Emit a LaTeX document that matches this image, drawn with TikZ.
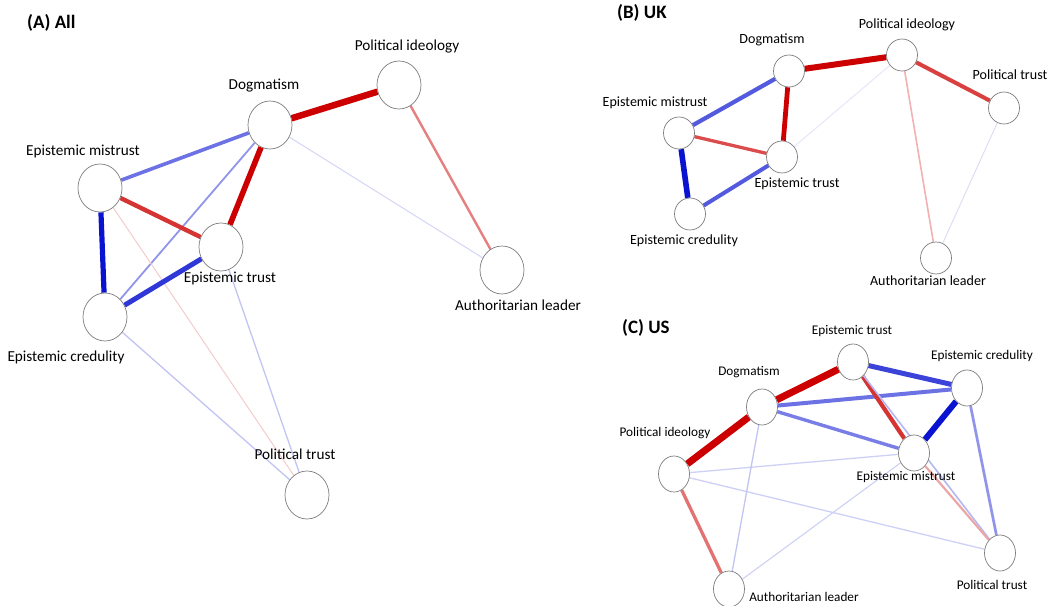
\documentclass[tikz,border=0pt]{standalone}
\usepackage{fontspec}
\setmainfont{Carlito}
\usepackage{xcolor}
\usetikzlibrary{shapes.geometric,backgrounds}
\definecolor{netred}{RGB}{204,0,0}
\definecolor{netblue}{RGB}{10,20,208}
\definecolor{nodegray}{RGB}{125,125,125}

\tikzset{
  vtx/.style={ellipse,draw=nodegray,fill=white,line width=0.7bp,inner sep=0pt},
  vtxA/.style={vtx,minimum width=44bp,minimum height=48bp},
  vtxB/.style={vtx,minimum width=31bp,minimum height=32bp},
  vtxC/.style={vtx,minimum width=31bp,minimum height=36bp},
  lblA/.style={inner sep=0pt,anchor=mid,font=\fontsize{15.3}{17}\selectfont},
  lblB/.style={lblA,font=\fontsize{14.1}{16}\selectfont},
  lblC/.style={lblA,font=\fontsize{13.3}{15}\selectfont},
  panel/.style={inner sep=0pt,anchor=mid west,font=\bfseries\fontsize{19}{22}\selectfont},
  posedge/.style 2 args={draw=netred!#1,line width=#2bp},
  negedge/.style 2 args={draw=netblue!#1,line width=#2bp},
}

\begin{document}
\begin{tikzpicture}[x=1bp,y=-1bp]
    \useasboundingbox (0,0) rectangle (1054,606);

    % (A) All
    \node[panel] (titleA) at (27,26) {(A) All};
    \node[vtxA] (aPolI) at (399,85) {};
    \node[vtxA] (aDog) at (270,125) {};
    \node[vtxA] (aMis) at (100,188) {};
    \node[vtxA] (aTru) at (221,247) {};
    \node[vtxA] (aAuth) at (502,270) {};
    \node[vtxA] (aCred) at (105,317) {};
    \node[vtxA] (aPolT) at (307,495) {};
    \node[lblA] (aPolIL) at (407,48) {Political ideology};
    \node[lblA] (aDogL) at (264,87) {Dogmatism};
    \node[lblA] (aMisL) at (83,153) {Epistemic mistrust};
    \node[lblA] (aTruL) at (230,280) {Epistemic trust};
    \node[lblA] (aAuthL) at (518,308) {Authoritarian leader};
    \node[lblA] (aCredL) at (66,359) {Epistemic credulity};
    \node[lblA] (aPolTL) at (295,457) {Political trust};

    % (B) UK
    \node[panel] (titleB) at (617,16) {(B) UK};
    \node[vtxB] (bPolI) at (902,55) {};
    \node[vtxB] (bDog) at (789,71) {};
    \node[vtxB] (bPolT) at (1004,108) {};
    \node[vtxB] (bMis) at (679,133) {};
    \node[vtxB] (bTru) at (782,157) {};
    \node[vtxB] (bCred) at (690,214) {};
    \node[vtxB] (bAuth) at (936,258) {};
    \node[lblB] (bPolIL) at (907,26) {Political ideology};
    \node[lblB] (bDogL) at (772,41) {Dogmatism};
    \node[lblB] (bPolTL) at (1010,77) {Political trust};
    \node[lblB] (bMisL) at (655,104) {Epistemic mistrust};
    \node[lblB] (bTruL) at (797,185) {Epistemic trust};
    \node[lblB] (bCredL) at (684,242) {Epistemic credulity};
    \node[lblB] (bAuthL) at (928,283) {Authoritarian leader};

    % (C) US
    \node[panel] (titleC) at (622,331) {(C) US};
    \node[vtxC] (cTru) at (853,362) {};
    \node[vtxC] (cCred) at (967,388) {};
    \node[vtxC] (cDog) at (762,407) {};
    \node[vtxC] (cPolI) at (674,474) {};
    \node[vtxC] (cMis) at (914,453) {};
    \node[vtxC] (cPolT) at (1000,553) {};
    \node[vtxC] (cAuth) at (729,589) {};
    \node[lblC] (cTruL) at (852,332) {Epistemic trust};
    \node[lblC] (cCredL) at (982,357) {Epistemic credulity};
    \node[lblC] (cDogL) at (749,373) {Dogmatism};
    \node[lblC] (cPolIL) at (665,434) {Political ideology};
    \node[lblC] (cMisL) at (906,478) {Epistemic mistrust};
    \node[lblC] (cPolTL) at (992,587) {Political trust};
    \node[lblC] (cAuthL) at (804,599) {Authoritarian leader};

    \begin{scope}[on background layer]
        \fill[white] (0,0) rectangle (1054,606);

        % Edges (A)
        \draw[posedge={100}{6.5}] (aDog) -- (aPolI);
        \draw[posedge={50}{2.4}] (aPolI) -- (aAuth);
        \draw[negedge={18}{1}] (aDog) -- (aAuth);
        \draw[negedge={60}{3.6}] (aDog) -- (aMis);
        \draw[negedge={45}{1.8}] (aDog) -- (aCred);
        \draw[posedge={100}{5.6}] (aDog) -- (aTru);
        \draw[posedge={80}{4.4}] (aMis) -- (aTru);
        \draw[negedge={100}{5.2}] (aMis) -- (aCred);
        \draw[posedge={20}{1}] (aMis) -- (aPolT);
        \draw[negedge={85}{5}] (aTru) -- (aCred);
        \draw[negedge={25}{1.3}] (aTru) -- (aPolT);
        \draw[negedge={25}{1.3}] (aCred) -- (aPolT);

        % Edges (B)
        \draw[posedge={100}{6}] (bDog) -- (bPolI);
        \draw[posedge={75}{4}] (bPolI) -- (bPolT);
        \draw[posedge={30}{1.6}] (bPolI) -- (bAuth);
        \draw[negedge={10}{1}] (bPolI) -- (bTru);
        \draw[negedge={14}{1}] (bPolT) -- (bAuth);
        \draw[negedge={70}{4.2}] (bDog) -- (bMis);
        \draw[posedge={100}{4.8}] (bDog) -- (bTru);
        \draw[posedge={70}{3.3}] (bMis) -- (bTru);
        \draw[negedge={100}{5.6}] (bMis) -- (bCred);
        \draw[negedge={70}{4}] (bTru) -- (bCred);

        % Edges (C)
        \draw[posedge={100}{7}] (cPolI) -- (cDog);
        \draw[posedge={100}{7}] (cDog) -- (cTru);
        \draw[negedge={80}{5}] (cTru) -- (cCred);
        \draw[negedge={60}{4}] (cDog) -- (cCred);
        \draw[negedge={55}{3.4}] (cDog) -- (cMis);
        \draw[posedge={80}{4.2}] (cTru) -- (cMis);
        \draw[negedge={100}{6}] (cCred) -- (cMis);
        \draw[negedge={45}{2.7}] (cCred) -- (cPolT);
        \draw[negedge={30}{1.6}] (cTru) -- (cPolT);
        \draw[posedge={35}{2.2}] (cMis) -- (cPolT);
        \draw[negedge={20}{1.3}] (cPolI) -- (cMis);
        \draw[negedge={20}{1.3}] (cPolI) -- (cPolT);
        \draw[posedge={55}{3.3}] (cPolI) -- (cAuth);
        \draw[negedge={25}{1.3}] (cDog) -- (cAuth);
        \draw[negedge={20}{1.1}] (cAuth) -- (cMis);
    \end{scope}
\end{tikzpicture}
\end{document}
